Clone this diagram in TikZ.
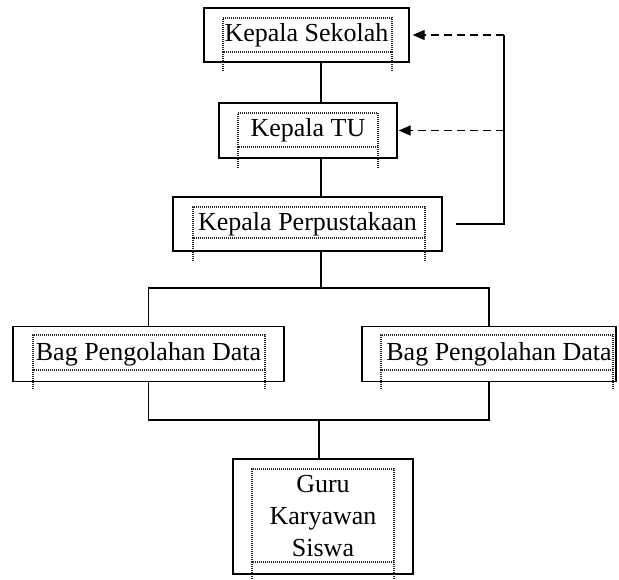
\documentclass[tikz,border=0pt]{standalone}
\usepackage{fontspec}
\setmainfont{Liberation Serif}
\usetikzlibrary{arrows.meta, positioning}
\tikzset{
  unit/.style={
    rectangle, draw=black, line width=1.3pt, inner sep=0pt,
    align=center, font=\fontsize{26}{32}\selectfont
  },
  tbox/.style={
    draw=black!85, line width=1.1pt, dash pattern=on 1pt off 1pt
  },
  link/.style={
    draw=black, line width=1.3pt
  },
  back/.style={
    draw=black, line width=1.3pt, dash pattern=on 8pt off 5pt,
    -{Triangle[length=12pt, width=10pt]}
  }
}
% dotted frame of a text box: left, top, right, bottom, tail end
\newcommand{\textframe}[5]{%
  \draw[tbox] (#1,#4) -- (#1,#2) -- (#3,#2) -- (#3,#4) -- cycle;
  \draw[tbox] (#1,#4) -- (#1,#5);
  \draw[tbox] (#3,#4) -- (#3,#5);
}

\begin{document}
\begin{tikzpicture}[x=1pt, y=-1pt]
  \useasboundingbox (0,0) rectangle (619,580);

  % units
  \node[unit, minimum width=205pt, minimum height=54pt] (sekolah) at (306.5,35) {\raisebox{4pt}{Kepala Sekolah}};
  \node[unit, minimum width=178pt, minimum height=55pt] (tu) at (308,130.5) {\raisebox{4pt}{Kepala TU}};
  \node[unit, minimum width=269pt, minimum height=54pt] (pustaka) at (307.5,224) {\raisebox{4pt}{Kepala Perpustakaan}};
  \node[unit, minimum width=271pt, minimum height=55pt] (olahkiri) at (148.5,354) {\raisebox{4pt}{Bag Pengolahan Data}};
  \node[unit, minimum width=254pt, minimum height=55pt] (olahkanan) at (489,354) {\hspace*{20pt}\raisebox{4pt}{Bag Pengolahan Data}};
  \node[unit, minimum width=180pt, minimum height=115pt] (anggota) at (323,516.5) {Guru\\Karyawan\\Siswa};

  % dotted text frames
  \textframe{223}{18}{392}{52}{72}
  \textframe{238}{113}{378}{147}{168}
  \textframe{193}{207}{425}{238}{262}
  \textframe{33}{335}{265}{370}{390}
  \textframe{381}{335}{613}{370}{390}
  \textframe{252}{469}{394}{562}{580}

  \coordinate (spine) at (321,0);
  \coordinate (split) at (321,288);
  \coordinate (join) at (319,420);
  \coordinate (ret) at (504,224);
  \coordinate (retend) at (456,224);

  % solid lines
  \draw[link] (sekolah.south -| spine) -- (tu.north -| spine);
  \draw[link] (tu.south -| spine) -- (pustaka.north -| spine);
  \draw[link] (pustaka.south -| split) -- (split);
  \draw[link] (olahkiri.north) -- (olahkiri.north |- split) -- (olahkanan.north |- split) -- (olahkanan.north);
  \draw[link] (olahkiri.south) -- (olahkiri.south |- join) -- (olahkanan.south |- join) -- (olahkanan.south);
  \draw[link] (join) -- (anggota.north -| join);
  \draw[link] (retend) -- (ret) -- (ret |- sekolah.east);

  % dashed returns
  \draw[back] (ret |- sekolah.east) -- ([xshift=3pt]sekolah.east);
  \draw[back] (ret |- tu.east) -- ([xshift=1pt]tu.east);
\end{tikzpicture}
\end{document}
